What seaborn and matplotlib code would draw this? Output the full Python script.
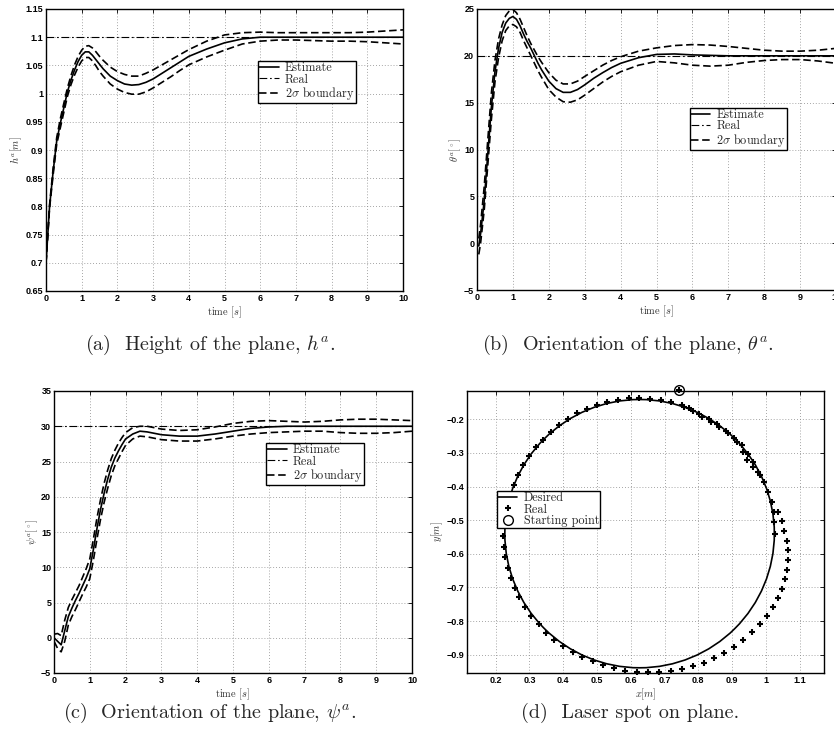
import matplotlib
matplotlib.use('Agg')
import matplotlib.pyplot as plt
from matplotlib.patches import Circle
from matplotlib.lines import Line2D
from matplotlib.ticker import MultipleLocator, FuncFormatter
import seaborn as sns

# (a) height of the plane
T_A = [0, 0.05, 0.1, 0.2, 0.3, 0.4, 0.5, 0.6, 0.7, 0.8, 0.9, 1.0, 1.1, 1.2, 1.3, 1.4,
       1.5, 1.6, 1.8, 2.0, 2.2, 2.4, 2.6, 2.8, 3.0, 3.25, 3.5, 3.75, 4.0, 4.5, 5.0,
       5.5, 6.0, 6.5, 7.0, 7.5, 8.0, 8.5, 9.0, 9.5, 10.0]
EST_A = [0.700, 0.750, 0.800, 0.862, 0.916, 0.947, 0.975, 1.003, 1.024, 1.042, 1.057,
         1.068, 1.074, 1.074, 1.068, 1.060, 1.052, 1.044, 1.031, 1.023, 1.017, 1.015,
         1.016, 1.020, 1.026, 1.036, 1.046, 1.056, 1.066, 1.079, 1.090, 1.097, 1.100,
         1.100, 1.100, 1.100, 1.100, 1.100, 1.100, 1.100, 1.100]
UP_A = [0.700, 0.752, 0.803, 0.868, 0.922, 0.955, 0.983, 1.010, 1.032, 1.051, 1.066,
        1.077, 1.084, 1.085, 1.081, 1.074, 1.066, 1.059, 1.047, 1.039, 1.034, 1.031,
        1.031, 1.036, 1.042, 1.051, 1.060, 1.069, 1.078, 1.093, 1.104, 1.108, 1.109,
        1.108, 1.108, 1.108, 1.108, 1.108, 1.109, 1.111, 1.113]
LOW_A = [0.700, 0.748, 0.797, 0.856, 0.910, 0.939, 0.967, 0.995, 1.016, 1.033, 1.047,
         1.058, 1.064, 1.064, 1.058, 1.049, 1.039, 1.031, 1.017, 1.008, 1.002, 0.999,
         0.999, 1.003, 1.010, 1.020, 1.030, 1.041, 1.051, 1.065, 1.077, 1.088, 1.093,
         1.095, 1.095, 1.094, 1.093, 1.093, 1.092, 1.090, 1.088]
REAL_A = 1.1

# (b) orientation theta
T_B = [0.05, 0.1, 0.2, 0.3, 0.4, 0.5, 0.6, 0.7, 0.8, 0.9, 1.0, 1.1, 1.2, 1.3, 1.4, 1.5,
       1.6, 1.7, 1.8, 2.0, 2.2, 2.4, 2.6, 2.8, 3.0, 3.25, 3.5, 3.75, 4.0, 4.5, 5.0, 5.5,
       6.0, 6.5, 7.0, 7.5, 8.0, 8.5, 9.0, 9.5, 10.0]
EST_B = [-0.3, 1.0, 4.5, 9.5, 14.5, 18.3, 20.8, 22.5, 23.5, 24.0, 24.2, 23.9, 23.2, 22.3,
         21.5, 20.8, 20.0, 19.2, 18.5, 17.3, 16.5, 16.1, 16.1, 16.4, 16.9, 17.6, 18.2,
         18.75, 19.2, 19.8, 20.15, 20.2, 20.1, 20.05, 20.0, 20.0, 20.0, 20.0, 20.0, 20.0, 20.0]
UP_B = [0.5, 2.0, 6.0, 11.0, 16.0, 19.5, 21.8, 23.3, 24.3, 24.8, 24.95, 24.6, 23.9, 23.0,
        22.1, 21.3, 20.6, 19.9, 19.3, 18.2, 17.4, 17.0, 17.0, 17.3, 17.8, 18.4, 19.0, 19.5,
        19.9, 20.5, 20.85, 21.1, 21.2, 21.15, 21.0, 20.8, 20.6, 20.5, 20.5, 20.6, 20.8]
LOW_B = [-1.2, 0.0, 3.5, 8.3, 13.2, 17.2, 19.8, 21.6, 22.7, 23.2, 23.35, 23.1, 22.5, 21.6,
         20.8, 20.0, 19.2, 18.4, 17.7, 16.4, 15.6, 15.1, 15.05, 15.3, 15.8, 16.5, 17.2,
         17.8, 18.3, 19.0, 19.4, 19.25, 19.0, 18.9, 19.0, 19.3, 19.5, 19.6, 19.6, 19.45, 19.2]
REAL_B = 20

# (c) orientation psi
T_C = [0, 0.1, 0.2, 0.3, 0.4, 0.5, 0.6, 0.7, 0.8, 0.9, 1.0, 1.1, 1.2, 1.3, 1.4, 1.5, 1.6,
       1.7, 1.8, 1.9, 2.0, 2.2, 2.4, 2.6, 2.8, 3.0, 3.5, 4.0, 4.5, 5.0, 5.5, 6.0, 6.5,
       7.0, 7.5, 8.0, 8.5, 9.0, 9.5, 10.0]
EST_C = [0.0, -0.5, -1.0, 1.0, 3.0, 4.2, 5.3, 6.3, 7.4, 8.5, 9.8, 12.5, 15.5, 18.2, 20.5,
         22.5, 24.2, 25.5, 26.5, 27.4, 28.2, 28.9, 29.3, 29.2, 29.0, 28.8, 28.6, 28.6,
         28.9, 29.3, 29.7, 29.9, 30.0, 30.0, 30.0, 30.0, 30.0, 30.0, 30.0, 30.0]
UP_C = [0.5, 0.6, 0.3, 2.5, 4.3, 5.4, 6.4, 7.4, 8.6, 9.8, 11.2, 14.0, 17.0, 19.6, 21.9,
        23.8, 25.4, 26.6, 27.6, 28.4, 29.1, 29.8, 30.0, 30.0, 29.8, 29.6, 29.4, 29.5,
        29.9, 30.4, 30.7, 30.8, 30.7, 30.6, 30.7, 30.9, 31.0, 31.0, 30.9, 30.8]
LOW_C = [-0.5, -1.5, -2.0, -0.5, 1.8, 3.0, 4.0, 5.1, 6.2, 7.2, 8.4, 11.0, 14.0, 16.8,
         19.2, 21.2, 23.0, 24.4, 25.4, 26.4, 27.3, 28.2, 28.6, 28.5, 28.3, 28.1, 27.9,
         27.9, 28.2, 28.6, 28.9, 29.1, 29.2, 29.3, 29.3, 29.1, 29.0, 29.0, 29.1, 29.3]
REAL_C = 30

# (d) laser spot
CIRCLE_X, CIRCLE_Y, CIRCLE_R = 0.626, -0.540, 0.399
START_X, START_Y = 0.742, -0.113
REAL_X = [0.742, 0.7507, 0.7575, 0.7733, 0.7833, 0.8029, 0.8100, 0.8325, 0.8366, 0.8561,
          0.8621, 0.8819, 0.8887, 0.9056, 0.9136,
          0.9284, 0.9313, 0.9480, 0.9432, 0.9628, 0.9610, 0.9776, 0.9826, 0.9944, 1.0072,
          1.0190, 1.0240, 1.0368, 1.0249, 1.0468, 1.0546, 1.0279,
          1.0626, 1.0664, 1.0664, 1.0634, 1.0566, 1.0468, 1.0359, 1.0202, 1.0024, 0.9826,
          0.9598, 0.9331,
          0.9065, 0.8769, 0.8473, 0.8168, 0.7833, 0.7507, 0.7182, 0.6844, 0.6518, 0.6175,
          0.5828, 0.5503, 0.5186,
          0.4872, 0.4564, 0.4280, 0.3984, 0.3735, 0.3489, 0.3273, 0.3045, 0.2867, 0.2699,
          0.2562, 0.2444, 0.2355, 0.2284, 0.2237, 0.2207,
          0.2230, 0.2300, 0.2380, 0.2450,
          0.2533, 0.2671, 0.2809, 0.2986, 0.3183, 0.3410, 0.3627, 0.3884, 0.4130, 0.4396,
          0.4692, 0.5008,
          0.5304, 0.5630, 0.5947, 0.6252, 0.6569, 0.6886, 0.7190]
REAL_Y = [-0.113, -0.1573, -0.1624, -0.1672, -0.1752, -0.1832, -0.1921, -0.1990, -0.2070,
          -0.2147, -0.2228, -0.2338, -0.2397, -0.2546, -0.2665,
          -0.2763, -0.2962, -0.3040, -0.3209, -0.3278, -0.3426, -0.3557, -0.3655, -0.3872,
          -0.4170, -0.4449, -0.4747, -0.4747, -0.5062, -0.5023, -0.5312, -0.5419,
          -0.5609, -0.5895, -0.6183, -0.6472, -0.6757, -0.7037, -0.7322, -0.7581, -0.7840,
          -0.8095, -0.8333, -0.8562,
          -0.8761, -0.8940, -0.9098, -0.9237, -0.9345, -0.9425, -0.9484, -0.9514, -0.9525,
          -0.9505, -0.9475, -0.9404, -0.9306,
          -0.9187, -0.9068, -0.8928, -0.8750, -0.8553, -0.8345, -0.8096, -0.7840, -0.7572,
          -0.7292, -0.7007, -0.6709, -0.6412, -0.6103, -0.5788, -0.5460,
          -0.515, -0.485, -0.455, -0.425,
          -0.3943, -0.3646, -0.3348, -0.3091, -0.2823, -0.2605, -0.2377, -0.2159, -0.1980,
          -0.1812, -0.1703, -0.1584,
          -0.1475, -0.1416, -0.1374, -0.1374, -0.1386, -0.1416, -0.1475]

CAPTIONS = [r'(a)  Height of the plane, $h^a$.',
            r'(b)  Orientation of the plane, $\theta^a$.',
            r'(c)  Orientation of the plane, $\psi^a$.',
            r'(d)  Laser spot on plane.']

sns.set_theme(style='white')
plt.rcParams['mathtext.fontset'] = 'cm'
plt.rcParams['font.family'] = ['Liberation Sans', 'DejaVu Sans']
plt.rcParams['font.weight'] = 'bold'

SERIF = dict(family='cmr10', weight='normal')
DASH = (0, (4.5, 2.2))
DASHDOT = (0, (7, 2.5, 1.5, 2.5))
LEG_SIZE = 8.8


def fmt(v, pos):
    return f'{v:g}'.replace('-', '\u2212')


def style_axes(ax, xlim, ylim, xstep, ystep):
    ax.set_xlim(*xlim)
    ax.set_ylim(*ylim)
    ax.xaxis.set_major_locator(MultipleLocator(xstep))
    ax.yaxis.set_major_locator(MultipleLocator(ystep))
    ax.xaxis.set_major_formatter(FuncFormatter(fmt))
    ax.yaxis.set_major_formatter(FuncFormatter(fmt))
    ax.tick_params(direction='in', top=True, right=True, length=3, width=0.6,
                   labelsize=6.5, pad=2, colors='black')
    ax.grid(True, linestyle=(0, (1, 2.5)), color='#888888', linewidth=0.6)
    for s in ax.spines.values():
        s.set_color('black')
        s.set_linewidth(1.0)


def add_legend(ax, handles, labels, pos):
    leg = ax.legend(handles, labels, loc='upper left', bbox_to_anchor=pos,
                    prop=dict(size=LEG_SIZE, **SERIF), frameon=True, fancybox=False,
                    framealpha=1, edgecolor='black', borderpad=0.1, labelspacing=-0.05,
                    handlelength=1.6, handletextpad=0.5, borderaxespad=0)
    leg.get_frame().set_linewidth(1.0)


def time_panel(ax, t, est, up, low, real, ylim, ystep, ylabel, legend_pos):
    ax.axhline(real, color='black', lw=0.8, linestyle=DASHDOT)
    h_real = ax.lines[-1]
    sns.lineplot(x=t, y=est, ax=ax, color='black', lw=1.2, sort=False)
    h_est = ax.lines[-1]
    sns.lineplot(x=t, y=up, ax=ax, color='black', lw=1.2, linestyle=DASH, sort=False)
    h_bnd = ax.lines[-1]
    sns.lineplot(x=t, y=low, ax=ax, color='black', lw=1.2, linestyle=DASH, sort=False)
    style_axes(ax, (0, 10), ylim, 1, ystep)
    ax.set_xlabel(r'time $[s]$', fontdict=dict(size=7.5, **SERIF), color='#333333', labelpad=1)
    ax.set_ylabel(ylabel, fontdict=dict(size=7.5, **SERIF), color='#333333', labelpad=1)
    add_legend(ax, [h_est, h_real, h_bnd], ['Estimate', 'Real', r'2$\sigma$ boundary'],
               legend_pos)


W, H = 834, 742
fig = plt.figure(figsize=(W / 100, H / 100), dpi=100)

ax_a = fig.add_axes([46 / W, 1 - 291 / H, 357 / W, 282 / H])
ax_b = fig.add_axes([477 / W, 1 - 290 / H, 359 / W, 281 / H])
ax_c = fig.add_axes([54 / W, 1 - 673 / H, 358 / W, 282 / H])
ax_d = fig.add_axes([467 / W, 1 - 673 / H, 357 / W, 282 / H])

time_panel(ax_a, T_A, EST_A, UP_A, LOW_A, REAL_A, (0.65, 1.15), 0.05,
           r'$h^a[m]$', (0.594, 0.816))
time_panel(ax_b, T_B, EST_B, UP_B, LOW_B, REAL_B, (-5, 25), 5,
           r'$\theta^a[^\circ]$', (0.592, 0.649))
time_panel(ax_c, T_C, EST_C, UP_C, LOW_C, REAL_C, (-5, 35), 5,
           r'$\psi^a[^\circ]$', (0.592, 0.816))

# (d) laser spot
ax_d.add_patch(Circle((CIRCLE_X, CIRCLE_Y), CIRCLE_R, fill=False, ec='black', lw=1.2))
sns.scatterplot(x=REAL_X, y=REAL_Y, ax=ax_d, marker='+', s=14, color='black',
                linewidth=1.5, clip_on=False, zorder=3)
ax_d.plot([START_X], [START_Y], marker='o', ms=7, mfc='none', mec='black', mew=1.0,
          clip_on=False, zorder=4)
style_axes(ax_d, (0.115, 1.172), (-0.9545, -0.1157), 0.1, 0.1)
ax_d.set_xlabel(r'$x[m]$', fontdict=dict(size=7.5, **SERIF), color='#333333', labelpad=1)
ax_d.set_ylabel(r'$y[m]$', fontdict=dict(size=7.5, **SERIF), color='#333333', labelpad=1)
handles = [Line2D([], [], color='black', lw=1.2),
           Line2D([], [], color='black', marker='+', ls='none', ms=4, mew=1.5),
           Line2D([], [], color='black', marker='o', ls='none', ms=7, mfc='none', mew=1.0)]
add_legend(ax_d, handles, ['Desired', 'Real', 'Starting point'], (0.083, 0.646))

for (x, y), text in zip([(210, 345), (628, 345), (210, 713), (630, 713)], CAPTIONS):
    fig.text(x / W, 1 - y / H, text, ha='center', va='center', size=14.5, **SERIF)

fig.savefig('out.png', dpi=100)
